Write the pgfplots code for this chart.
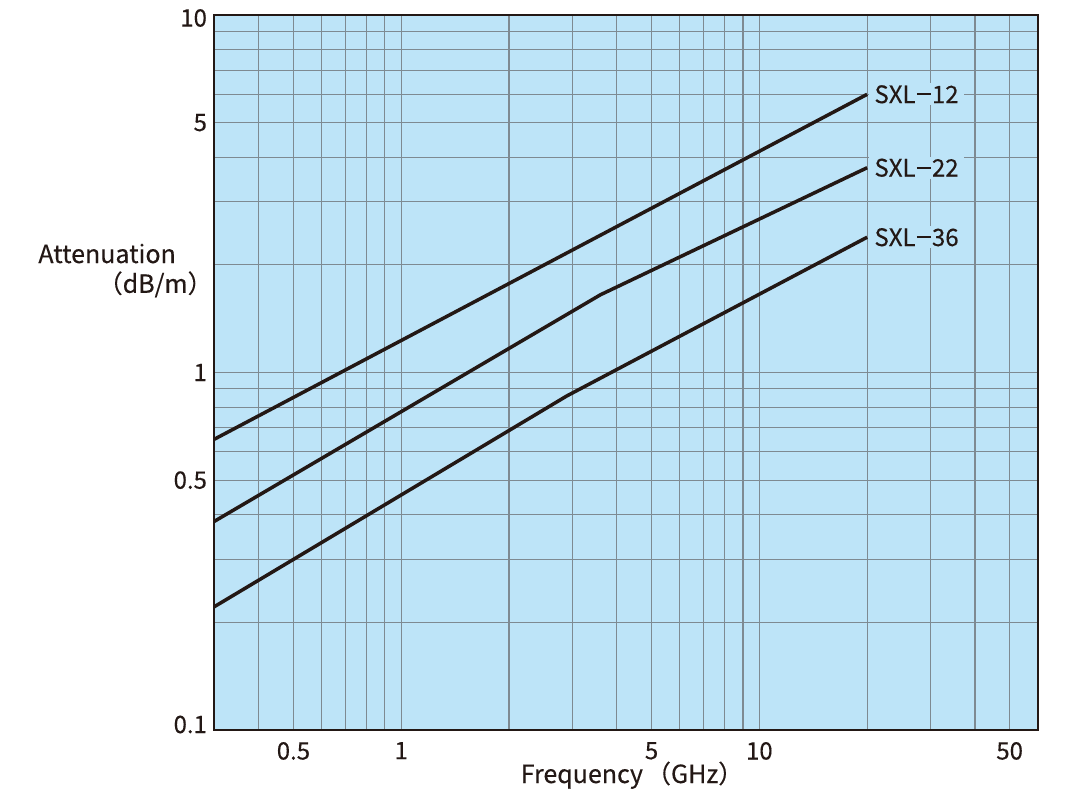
\documentclass[border=0pt]{standalone}
\usepackage{pgfplots}
\pgfplotsset{compat=1.18}
\usepackage{fontspec}
\setmainfont{Noto Sans CJK JP}[FakeBold=0.3]
\definecolor{bgblue}{HTML}{BDE4F8}
\definecolor{gridgray}{HTML}{7E8A92}
\definecolor{ink}{HTML}{231815}
\newcommand{\sxldash}{\kern0.6pt\rule[0.33em]{7pt}{0.9pt}\kern0.6pt}
\begin{document}
\begin{tikzpicture}
\path[use as bounding box] (0,0) rectangle (540pt,400pt);
\begin{axis}[
  name=ax,
  at={(107pt,35pt)}, anchor=south west,
  scale only axis, width=412pt, height=357.5pt,
  xmode=log, ymode=log,
  xmin=0.3, xmax=60, ymin=0.1, ymax=10,
  axis background/.style={fill=bgblue},
  axis line style={ink, line width=1.2pt},
  xtick={0.5,1,5,10,50}, xticklabels={0.5,1,5,10,50},
  ytick={0.1,0.5,1,5,10},
  yticklabels={\raisebox{2.75pt}[\height][\depth]{0.1},0.5,1,5,\raisebox{-1.5pt}[\height][\depth]{10}},
  minor xtick={0.4,0.6,0.7,0.8,0.9,2,3,4,6,7,8,9,20,30,40},
  minor ytick={0.2,0.3,0.4,0.6,0.7,0.8,0.9,2,3,4,6,7,8,9},
  grid=both,
  major grid style={gridgray, line width=0.55pt},
  minor grid style={gridgray, line width=0.55pt},
  major tick length=0pt, minor tick length=0pt,
  tick label style={font=\fontsize{12}{14}\selectfont, text=ink},
  xticklabel style={yshift=-2.5pt},
]
\addplot[ink, line width=1.75pt] coordinates {(0.3,0.65) (20,6.0)}
  node[pos=1, anchor=west, fill=bgblue, inner xsep=2.8pt, inner ysep=1pt, text=ink, font=\fontsize{12}{14}\selectfont] {SXL\sxldash12};
\addplot[ink, line width=1.75pt] coordinates {(0.3,0.383) (3.6,1.65) (20,3.74)}
  node[pos=1, anchor=west, fill=bgblue, inner xsep=2.8pt, inner ysep=1pt, text=ink, font=\fontsize{12}{14}\selectfont] {SXL\sxldash22};
\addplot[ink, line width=1.75pt] coordinates {(0.3,0.221) (2.9,0.86) (20,2.39)}
  node[pos=1, anchor=west, fill=bgblue, inner xsep=2.8pt, inner ysep=1pt, text=ink, font=\fontsize{12}{14}\selectfont] {SXL\sxldash36};
\end{axis}
\node[anchor=base west, inner sep=0pt, text=ink, font=\fontsize{12.5}{15}\selectfont] at (19pt,268.5pt) {Attenuation};
\node[anchor=base east, inner sep=0pt, text=ink, font=\fontsize{12.5}{15}\selectfont] at (106.5pt,253.6pt) {（dB/m）};
\node[anchor=base, inner sep=0pt, text=ink, font=\fontsize{12.5}{15}\selectfont] at (316pt,8.5pt) {Frequency\hspace{1.5pt}（GHz）};
\end{tikzpicture}
\end{document}
